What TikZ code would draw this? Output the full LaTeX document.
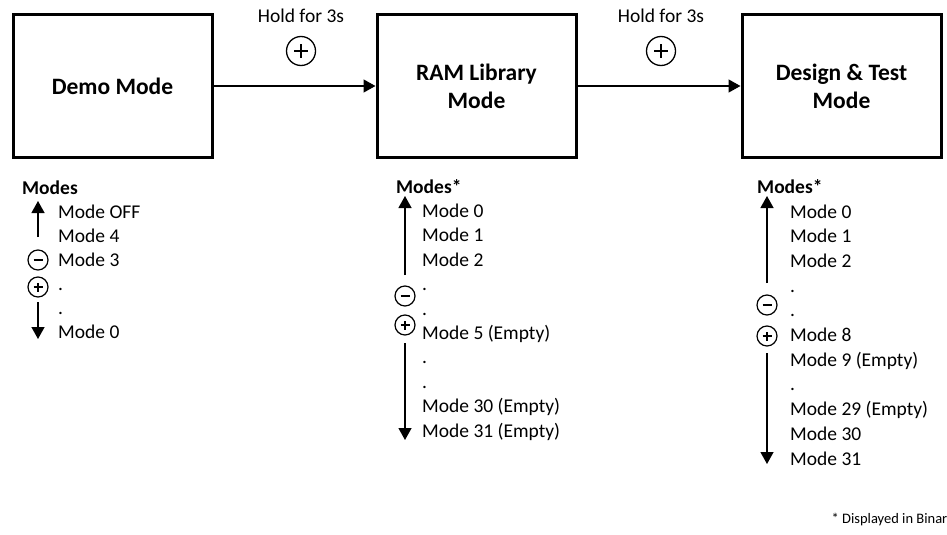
\documentclass[tikz,border=0pt]{standalone}
\usepackage{fontspec}
\setmainfont{Carlito}
\usetikzlibrary{arrows.meta}
\newcommand\drawplussign[3]{\draw[line width=#3] ([xshift=-#2]#1.center) -- ([xshift=#2]#1.center) ([yshift=-#2]#1.center) -- ([yshift=#2]#1.center);}
\newcommand\drawminussign[3]{\draw[line width=#3] ([xshift=-#2]#1.center) -- ([xshift=#2]#1.center);}
\begin{document}
\begin{tikzpicture}[x=1pt,y=-1pt,
  modebox/.style={draw, line width=3pt, minimum width=199pt, minimum height=143pt, inner sep=0pt, align=center, font=\fontsize{23.5}{28}\selectfont\bfseries},
  conn/.style={line width=1.3pt, -{Triangle[width=13pt,length=12pt]}},
  txt/.style={anchor=base west, inner sep=0pt, font=\fontsize{19.5}{24}\selectfont},
  hd/.style={anchor=base west, inner sep=0pt, font=\fontsize{19.5}{24}\selectfont\bfseries},
  bigbtn/.style={draw, circle, line width=1.3pt, minimum size=29pt, inner sep=0pt},
  smbtn/.style={draw, circle, line width=1.2pt, minimum size=20pt, inner sep=0pt}
]
\useasboundingbox (0,0) rectangle (947,535);

% boxes
\node[modebox] (demo) at (112.5,86) {Demo Mode};
\node[modebox] (ram) at (476.5,86) {RAM Library\\Mode};
\node[modebox] (dt) at (841.5,86) {Design \& Test\\Mode};
\draw[conn] (demo) -- (ram);
\draw[conn] (ram) -- (dt);

% hold labels
\node[anchor=base, inner sep=0pt, font=\fontsize{19.5}{24}\selectfont] (h1) at (301,23) {Hold for 3s};
\node[anchor=base, inner sep=0pt, font=\fontsize{19.5}{24}\selectfont] (h2) at (661,23) {Hold for 3s};
\node[bigbtn] (p1) at (301,51) {};
\node[bigbtn] (p2) at (661,51) {};
\drawplussign{p1}{7pt}{2.8pt}
\drawplussign{p2}{7pt}{2.8pt}

% left list
\node[hd] (m1) at (22,194) {Modes};
\foreach \t [count=\i from 0] in {Mode OFF, Mode 4, Mode 3, ., ., Mode 0}
  \node[txt] (l\i) at (58,218+24*\i) {\t};
\coordinate (u1s) at (38,237);
\coordinate (u1e) at (38,201);
\draw[conn] (u1s) -- (u1e);
\node[smbtn] (mn1) at (38,260) {};
\node[smbtn] (pl1) at (38,287) {};
\drawminussign{mn1}{4.5pt}{1.6pt}
\drawplussign{pl1}{4.5pt}{1.6pt}
\coordinate (d1s) at (38,302);
\coordinate (d1e) at (38,339);
\draw[conn] (d1s) -- (d1e);

% middle list
\node[hd] (m2) at (396,193) {Modes*};
\foreach \t [count=\i from 0] in {Mode 0, Mode 1, Mode 2, ., ., Mode 5 (Empty), ., ., Mode 30 (Empty), Mode 31 (Empty)}
  \node[txt] (r\i) at (422,217.5+24.4*\i) {\t};
\coordinate (u2s) at (405,275);
\coordinate (u2e) at (405,196);
\draw[conn] (u2s) -- (u2e);
\node[smbtn] (mn2) at (405,296) {};
\node[smbtn] (pl2) at (405,325) {};
\drawminussign{mn2}{4.5pt}{1.6pt}
\drawplussign{pl2}{4.5pt}{1.6pt}
\coordinate (d2s) at (405,343);
\coordinate (d2e) at (405,440);
\draw[conn] (d2s) -- (d2e);

% right list
\node[hd] (m3) at (757,193) {Modes*};
\foreach \t [count=\i from 0] in {Mode 0, Mode 1, Mode 2, ., ., Mode 8, Mode 9 (Empty), ., Mode 29 (Empty), Mode 30, Mode 31}
  \node[txt] (t\i) at (790,218+24.7*\i) {\t};
\coordinate (u3s) at (767,283);
\coordinate (u3e) at (767,196);
\draw[conn] (u3s) -- (u3e);
\node[smbtn] (mn3) at (767,305) {};
\node[smbtn] (pl3) at (767,336) {};
\drawminussign{mn3}{4.5pt}{1.6pt}
\drawplussign{pl3}{4.5pt}{1.6pt}
\coordinate (d3s) at (767,353);
\coordinate (d3e) at (767,464);
\draw[conn] (d3s) -- (d3e);

% footnote
\node[anchor=base east, inner sep=0pt, font=\fontsize{14.5}{17}\selectfont] (fn) at (947.5,523) {* Displayed in Binar};
\end{tikzpicture}
\end{document}
